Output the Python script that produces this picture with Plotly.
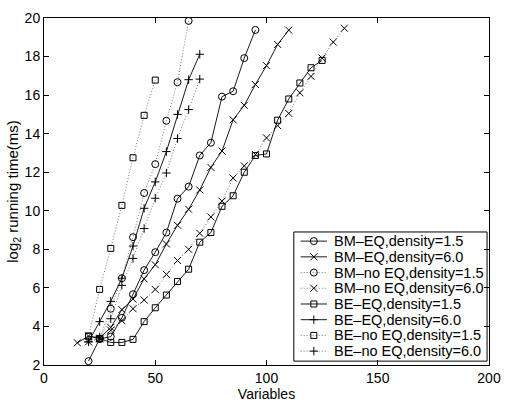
import plotly.graph_objects as go

# ---------------- data ----------------
bm_eq_15_x = [20, 25, 30, 35, 40, 45, 50, 55, 60, 65, 70, 75, 80, 85, 90, 95]
bm_eq_15_y = [2.2, 3.35, 3.47, 4.45, 5.67, 6.92, 7.85, 8.87, 10.63, 11.25, 12.87, 13.53, 15.92, 16.2, 17.92, 19.38]

bm_eq_60_x = [15, 20, 25, 30, 35, 40, 45, 50, 55, 60, 65, 70, 75, 80, 85, 90, 95, 100, 105, 110]
bm_eq_60_y = [3.15, 3.5, 3.4, 3.95, 4.87, 5.42, 6.47, 7.2, 8.28, 9.25, 10.08, 11.08, 12.25, 13.1, 14.72, 15.47, 16.55, 17.53, 18.63, 19.37]

bm_noeq_15_x = [25, 30, 35, 40, 45, 50, 55, 60, 65]
bm_noeq_15_y = [3.35, 4.92, 6.5, 8.63, 10.92, 12.42, 14.67, 16.67, 19.85]

bm_noeq_60_x = [20, 25, 30, 35, 40, 45, 50, 55, 60, 65, 70, 75, 80, 85, 90, 95, 100, 105, 110, 115, 120, 125, 130, 135]
bm_noeq_60_y = [3.2, 3.35, 3.8, 4.3, 4.92, 5.37, 5.92, 6.7, 7.42, 8.0, 8.83, 9.68, 10.5, 11.7, 12.33, 12.92, 13.78, 14.42, 15.05, 16.12, 16.97, 17.92, 18.75, 19.47]

be_eq_15_x = [20, 25, 30, 35, 40, 45, 50, 55, 60, 65, 70, 75, 80, 85, 90, 95, 100, 105, 110, 115, 120, 125]
be_eq_15_y = [3.5, 3.37, 3.17, 3.17, 3.33, 4.25, 4.97, 5.63, 6.33, 6.97, 8.37, 8.87, 10.23, 10.78, 12.0, 12.87, 12.95, 14.7, 15.8, 16.63, 17.42, 17.8]

be_noeq_15_x = [20, 25, 30, 35, 40, 45, 50]
be_noeq_15_y = [3.5, 5.92, 8.05, 10.28, 12.75, 14.95, 16.78]

be_eq_60_x = [20, 25, 30, 35, 40, 45, 50, 55, 60, 65, 70]
be_eq_60_y = [3.2, 4.25, 5.3, 6.5, 8.17, 10.13, 11.5, 13.07, 15.0, 16.8, 18.12]

be_noeq_60_x = [20, 25, 30, 35, 40, 45, 50, 55, 60, 65, 70]
be_noeq_60_y = [3.2, 3.45, 4.4, 6.13, 7.53, 9.08, 10.65, 11.96, 13.75, 15.25, 16.83]

series_names = [
    "BM\u2013EQ,density=1.5",
    "BM\u2013EQ,density=6.0",
    "BM\u2013no EQ,density=1.5",
    "BM\u2013no EQ,density=6.0",
    "BE\u2013EQ,density=1.5",
    "BE\u2013EQ,density=6.0",
    "BE\u2013no EQ,density=1.5",
    "BE\u2013no EQ,density=6.0",
]
series_x = [bm_eq_15_x, bm_eq_60_x, bm_noeq_15_x, bm_noeq_60_x,
            be_eq_15_x, be_eq_60_x, be_noeq_15_x, be_noeq_60_x]
series_y = [bm_eq_15_y, bm_eq_60_y, bm_noeq_15_y, bm_noeq_60_y,
            be_eq_15_y, be_eq_60_y, be_noeq_15_y, be_noeq_60_y]

x_ticks = [0, 50, 100, 150, 200]
y_ticks = [2, 4, 6, 8, 10, 12, 14, 16, 18, 20]

# ---------------- styles ----------------
symbols = ["circle-open", "x-thin-open", "circle-open", "x-thin-open",
           "square-open", "cross-thin-open", "square-open", "cross-thin-open"]
sizes = [7, 7, 7, 7, 6, 6, 6, 6]
dashes = ["solid", "solid", "1px,2px", "1px,2px",
          "solid", "solid", "1px,2px", "1px,2px"]
line_colors = ["black" if d == "solid" else "#666666" for d in dashes]

FONT = "Liberation Sans, Arial, Helvetica, sans-serif"

fig = go.Figure()
for name, xs, ys, sym, sz, dsh, lc in zip(series_names, series_x, series_y, symbols, sizes, dashes, line_colors):
    fig.add_trace(go.Scatter(
        x=xs, y=ys, mode="lines+markers", name=name, showlegend=False,
        line=dict(color=lc, width=0.9, dash=dsh),
        marker=dict(symbol=sym, size=sz, color="black", line=dict(color="black", width=1)),
        xaxis="x", yaxis="y",
    ))

# ---------------- custom MATLAB-style legend (overlay axis in pixel units) ----------------
PL, PR, PT, PB = 44, 500, 10, 370
LEG_L, LEG_R, LEG_T, LEG_B = 300, 498, 232, 366
ROW0, ROW_STEP = 241.5, 16.3
SW_L, SW_R, TXT_X = 307, 334, 339

for i, (name, sym, sz, dsh, lc) in enumerate(zip(series_names, symbols, sizes, dashes, line_colors)):
    ry = ROW0 + i * ROW_STEP
    fig.add_trace(go.Scatter(
        x=[SW_L, SW_R], y=[ry, ry], mode="lines", showlegend=False, hoverinfo="skip",
        line=dict(color=lc, width=0.9, dash=dsh), xaxis="x2", yaxis="y2"))
    fig.add_trace(go.Scatter(
        x=[(SW_L + SW_R) / 2], y=[ry], mode="markers", showlegend=False, hoverinfo="skip",
        marker=dict(symbol=sym, size=sz, color="black", line=dict(color="black", width=1)),
        xaxis="x2", yaxis="y2"))
    fig.add_annotation(x=TXT_X, y=ry, xref="x2", yref="y2", text=name, showarrow=False,
                       xanchor="left", yanchor="middle",
                       font=dict(family=FONT, size=14.5, color="black"))

fig.add_shape(type="rect", xref="x2", yref="y2", x0=LEG_L, x1=LEG_R, y0=LEG_T, y1=LEG_B,
              line=dict(color="black", width=1), fillcolor="white", layer="below")

axis_common = dict(
    showline=True, linecolor="black", linewidth=1, mirror="ticks",
    ticks="inside", ticklen=5, tickwidth=1, tickcolor="black",
    showgrid=False, zeroline=False, ticklabeloverflow="allow",
    tickfont=dict(family=FONT, size=14, color="black"),
)

fig.update_layout(
    width=511, height=406,
    margin=dict(l=PL, r=511 - PR, t=PT, b=406 - PB),
    paper_bgcolor="white", plot_bgcolor="white",
    showlegend=False,
    font=dict(family=FONT, size=14, color="black"),
    xaxis=dict(range=[0, 200], tickvals=x_ticks, ticktext=[str(v) for v in x_ticks],
               title=dict(text="Variables", standoff=0, font=dict(family=FONT, size=14)),
               **axis_common),
    yaxis=dict(range=[2, 20], tickvals=y_ticks, ticktext=[str(v) for v in y_ticks],
               title=dict(text="log<sub>2</sub> running time(ms)", standoff=2,
                          font=dict(family=FONT, size=15)),
               **axis_common),
    xaxis2=dict(range=[PL, PR], overlaying="x", anchor="y2", visible=False, fixedrange=True),
    yaxis2=dict(range=[PB, PT], overlaying="y", anchor="x2", visible=False, fixedrange=True),
)

fig.write_html("out.html")
